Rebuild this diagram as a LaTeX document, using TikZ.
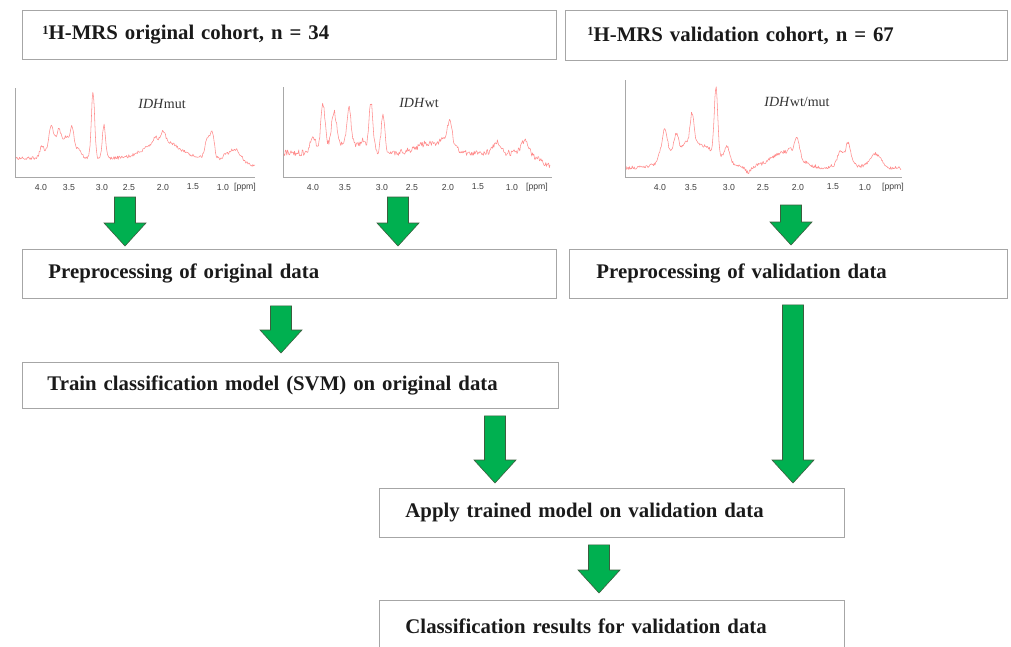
\documentclass[tikz,border=0pt]{standalone}
\usepackage{fontspec}
\setmainfont{Liberation Serif}
\setsansfont{Liberation Sans}
\usetikzlibrary{calc}
\definecolor{boxgray}{HTML}{A6A6A6}
\definecolor{agreen}{HTML}{00B050}
\definecolor{aedge}{HTML}{3B5E3E}
\definecolor{specpink}{HTML}{FF8C8C}
\definecolor{axgray}{HTML}{A8A8A8}
\definecolor{txt}{HTML}{1A1A1A}
\newcommand\greenarrow[2]{%
  \draw[garrow] let \p1=(#1), \p2=(#2) in
  (\x1-10.5pt,\y1) -- (\x1+10.5pt,\y1) -- (\x1+10.5pt,\y2+23pt) -- (\x1+21pt,\y2+23pt)
  -- (\x1,\y2) -- (\x1-21pt,\y2+23pt) -- (\x1-10.5pt,\y2+23pt) -- cycle;}
\newcommand\supone{\raisebox{5.5pt}{\fontsize{12.5}{13}\selectfont 1}}
\tikzset{
  flowbox/.style={draw=boxgray, line width=0.9pt, anchor=north west, align=left,
    text=txt, font=\fontsize{20.8}{25}\selectfont\bfseries},
  garrow/.style={fill=agreen, draw=aedge, line width=0.6pt, line join=miter},
  spec/.style={draw=specpink, line width=0.55pt, line join=round},
  specaxis/.style={draw=axgray, line width=0.6pt},
  speclab/.style={font=\fontsize{14}{16}\selectfont, text=black!80, inner sep=0pt},
  tick/.style={font=\sffamily\fontsize{8.7}{10}\selectfont, text=black!75, inner sep=0pt}
}
\begin{document}
\begin{tikzpicture}[x=1pt, y=-1pt,
  declare function={gp(\xx,\cc,\hh,\ww)=\hh*exp(-min(abs((\xx-\cc)/\ww),6)*min(abs((\xx-\cc)/\ww),6));}]
\pgfmathsetseed{7}
\fill[white] (0,0) rectangle (1011,646);
\useasboundingbox (0,0) rectangle (1011,646);

% ---------- boxes ----------
\node[flowbox, minimum height=49pt, text width=494pt, inner xsep=20pt] (h1) at (22,10)
  {\supone H-MRS original cohort, n = 34};
\node[flowbox, minimum height=50pt, text width=398pt, inner xsep=22pt] (h2) at (565,10)
  {\supone H-MRS validation cohort, n = 67};
\node[flowbox, minimum height=49pt, text width=482pt, inner xsep=26pt] (p1) at (22,249)
  {Preprocessing of original data};
\node[flowbox, minimum height=49pt, text width=384pt, inner xsep=27pt] (p2) at (569,249)
  {Preprocessing of validation data};
\node[flowbox, minimum height=46pt, text width=486pt, inner xsep=25pt] (t1) at (22,362)
  {Train classification model (SVM) on original data};
\node[flowbox, minimum height=49pt, text width=413pt, inner xsep=26pt] (ap) at (379,488)
  {Apply trained model on validation data};
\node[flowbox, minimum height=52pt, text width=413pt, inner xsep=26pt] (cl) at (379,600)
  {Classification results for validation data};

% ---------- spectrum 1 ----------
\draw[specaxis] (15,88) -- (15,177) -- (255,177);
\draw[spec] plot[variable=\t, domain=16:255, samples=340]
  (\t, {158+0.2*max(0,\t-215) - (gp(\t,55,16,9)+gp(\t,70,16,9)+gp(\t,42,10,3)+gp(\t,51,19,2.8)
   +gp(\t,59,12,2.8)+gp(\t,66,5,2.5)+gp(\t,72,16,2.5)+gp(\t,80,4,2)+gp(\t,93,66,2.3)+gp(\t,104,33,2.3)
   +gp(\t,162,18,22)+gp(\t,163,9,3)+gp(\t,155,5,2.5)+gp(\t,207,18,3)+gp(\t,212,26,3)
   +gp(\t,235,13,8)+gp(\t,225,3,3)) + 1.6*rand});
\node[speclab] (l1) at (162,104) {\textit{IDH}mut};
\foreach \v/\xp in {4.0/41,3.5/69,3.0/102,2.5/129,2.0/163,1.5/193,1.0/223}
  \node[tick] (ta\xp) at (\xp,187) {\v};
\node[tick] (tappm) at (245,187) {[ppm]};

% ---------- spectrum 2 ----------
\draw[specaxis] (283,87) -- (283,177) -- (552,177);
\draw[spec] plot[variable=\t, domain=284:550, samples=380]
  (\t, {153+0.5*max(0,\t-525) - (gp(\t,345,10,22)+gp(\t,313,14,4)+gp(\t,323,45,3)
   +gp(\t,334,33,3.5)+gp(\t,349,37,2.8)+gp(\t,363,8,3)+gp(\t,371,48,2.8)+gp(\t,383,38,2.6)
   +gp(\t,430,10,18)+gp(\t,448,12,8)+gp(\t,450,20,3)+gp(\t,497,11,5)+gp(\t,525,13,5))
   + 3*rand});
\node[speclab] (l2) at (419,103) {\textit{IDH}wt};
\foreach \v/\xp in {4.0/313,3.5/345,3.0/382,2.5/412,2.0/448,1.5/478,1.0/512}
  \node[tick] (tb\xp) at (\xp,187) {\v};
\node[tick] (tbppm) at (537,187) {[ppm]};

% ---------- spectrum 3 ----------
\draw[specaxis] (625,80) -- (625,177) -- (902,177);
\draw[spec] plot[variable=\t, domain=626:901, samples=400]
  (\t, {168 - (gp(\t,695,24,30)+gp(\t,660,8,3)+gp(\t,665,30,3.5)+gp(\t,676,18,3.5)+gp(\t,685,5,2)
   +gp(\t,692,32,2.8)+gp(\t,716,66,2.4)+gp(\t,727,14,3.5)+gp(\t,748,-6,4)+gp(\t,785,16,20)
   +gp(\t,790,6,2)+gp(\t,797,20,3.5)+gp(\t,840,12,3.5)+gp(\t,848,20,3.5)+gp(\t,845,6,12)
   +gp(\t,875,14,8)) + 1.8*rand});
\node[speclab] (l3) at (797,102) {\textit{IDH}wt/mut};
\foreach \v/\xp in {4.0/660,3.5/691,3.0/729,2.5/763,2.0/798,1.5/833,1.0/865}
  \node[tick] (tc\xp) at (\xp,187) {\v};
\node[tick] (tcppm) at (893,187) {[ppm]};

% ---------- arrows ----------
\coordinate (aA) at (125,197);
\coordinate (aAt) at ($(p1.north -| aA)+(0,-3)$);
\coordinate (aB) at (398,197);
\coordinate (aBt) at ($(p1.north -| aB)+(0,-3)$);
\coordinate (aC) at (791,205);
\coordinate (aCt) at ($(p2.north -| aC)+(0,-4)$);
\coordinate (aD) at ($(p1.south -| 281,0)+(0,7)$);
\coordinate (aDt) at ($(t1.north -| aD)+(0,-9)$);
\coordinate (aE) at ($(t1.south -| 495,0)+(0,7)$);
\coordinate (aEt) at ($(ap.north -| aE)+(0,-5)$);
\coordinate (aF) at ($(p2.south -| 793,0)+(0,6)$);
\coordinate (aFt) at ($(ap.north -| aF)+(0,-5)$);
\coordinate (aG) at ($(ap.south -| 599,0)+(0,7)$);
\coordinate (aGt) at ($(cl.north -| aG)+(0,-7)$);
\greenarrow{aA}{aAt}
\greenarrow{aB}{aBt}
\greenarrow{aC}{aCt}
\greenarrow{aD}{aDt}
\greenarrow{aE}{aEt}
\greenarrow{aF}{aFt}
\greenarrow{aG}{aGt}
\end{tikzpicture}
\end{document}
